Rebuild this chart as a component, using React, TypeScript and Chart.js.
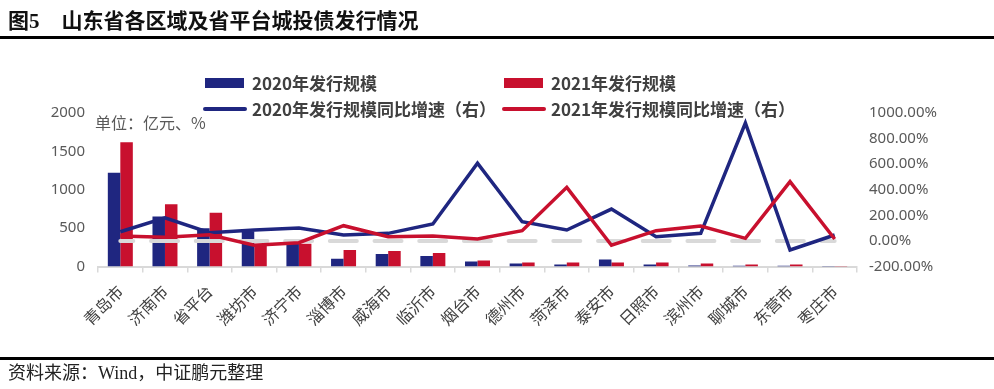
import React, { useEffect, useRef } from "react";
import { Chart, registerables } from "chart.js";

Chart.register(...registerables);

const categories = ["青岛市", "济南市", "省平台", "潍坊市", "济宁市", "淄博市", "威海市", "临沂市", "烟台市", "德州市", "菏泽市", "泰安市", "日照市", "滨州市", "聊城市", "东营市", "枣庄市"];
const issue2020 = [1220, 650, 500, 460, 310, 100, 163, 137, 65, 40, 26, 91, 26, 13, 10, 10, 8];
const issue2021 = [1620, 810, 700, 290, 295, 215, 202, 176, 78, 52, 52, 52, 52, 39, 26, 26, 8];
const growth2020 = [72, 181, 64, 85, 101, 46, 59, 132, 607, 150, 85, 249, 33, 59, 922, -71, 46];
const growth2021 = [38, 28, 48, -34, -14, 119, 33, 38, 15, 80, 419, -34, 80, 116, 20, 463, 15];
const zeroLine = [0, 0, 0, 0, 0, 0, 0, 0, 0, 0, 0, 0, 0, 0, 0, 0, 0];
const leftTicks = { min: 0, max: 2000, step: 500 };
const rightTicks = { min: -200, max: 1000, step: 200 };

const BLUE = "#1f2680";
const RED = "#c8102e";
const SANS = '"Noto Sans", "Noto Sans CJK SC", sans-serif';
const CJK = '"Noto Sans CJK SC", sans-serif';

const legendSlots = [
  { x: 205, y: 83, textX: 252, kind: "box" },
  { x: 504, y: 83, textX: 551, kind: "box" },
  { x: 205, y: 109, textX: 252, kind: "line" },
  { x: 504, y: 109, textX: 551, kind: "line" },
];

const legendPlugin = {
  id: "customLegend",
  afterDraw(chart: any) {
    const ctx = chart.ctx;
    ctx.save();
    const items = chart.data.datasets.filter((d: any) => d.legendIndex !== undefined);
    items.forEach((d: any) => {
      const s = legendSlots[d.legendIndex];
      if (s.kind === "box") {
        ctx.fillStyle = d.backgroundColor;
        ctx.fillRect(s.x, s.y - 5, 39, 10);
      } else {
        ctx.strokeStyle = d.borderColor;
        ctx.lineWidth = 4;
        ctx.lineCap = "round";
        ctx.beginPath();
        ctx.moveTo(s.x, s.y);
        ctx.lineTo(s.x + 40, s.y);
        ctx.stroke();
      }
      ctx.fillStyle = "#404040";
      ctx.font = "bold 17px " + CJK;
      ctx.textBaseline = "middle";
      ctx.textAlign = "left";
      ctx.fillText(d.label, s.textX, s.y + 1);
    });
    ctx.fillStyle = "#595959";
    ctx.font = "16px " + CJK;
    ctx.textBaseline = "middle";
    ctx.fillText("单位：亿元、%", 95, 123);
    ctx.restore();
  },
};

export default function App() {
  const ref = useRef<HTMLCanvasElement | null>(null);
  useEffect(() => {
    document.body.style.margin = "0";
    const chart = new Chart(ref.current as HTMLCanvasElement, {
      type: "bar",
      data: {
        labels: categories,
        datasets: [
          {
            type: "line",
            label: "2021年发行规模同比增速（右）",
            data: growth2021,
            yAxisID: "y1",
            borderColor: RED,
            backgroundColor: RED,
            borderWidth: 3.5,
            pointRadius: 0,
            tension: 0,
            order: 0,
            legendIndex: 3,
          } as any,
          {
            type: "line",
            label: "2020年发行规模同比增速（右）",
            data: growth2020,
            yAxisID: "y1",
            borderColor: BLUE,
            backgroundColor: BLUE,
            borderWidth: 3.5,
            pointRadius: 0,
            tension: 0,
            order: 1,
            legendIndex: 2,
          } as any,
          {
            type: "line",
            label: "zero",
            data: zeroLine,
            yAxisID: "y1",
            borderColor: "#d9d9d9",
            borderWidth: 4,
            borderDash: [27, 17.7],
            borderDashOffset: 14,
            borderCapStyle: "round",
            pointRadius: 0,
            order: 2,
          } as any,
          {
            type: "bar",
            label: "2020年发行规模",
            data: issue2020,
            yAxisID: "y",
            backgroundColor: BLUE,
            categoryPercentage: 0.56,
            barPercentage: 1,
            order: 3,
            legendIndex: 0,
          } as any,
          {
            type: "bar",
            label: "2021年发行规模",
            data: issue2021,
            yAxisID: "y",
            backgroundColor: RED,
            categoryPercentage: 0.56,
            barPercentage: 1,
            order: 4,
            legendIndex: 1,
          } as any,
        ],
      },
      options: {
        responsive: false,
        maintainAspectRatio: false,
        animation: false,
        devicePixelRatio: 1,
        layout: { padding: { left: 0, right: 0, top: 113, bottom: 42.5 } },
        plugins: { legend: { display: false }, tooltip: { enabled: false } },
        scales: {
          x: {
            grid: {
              display: true,
              drawOnChartArea: false,
              drawTicks: true,
              tickLength: 6,
              color: "#d9d9d9",
              lineWidth: 1.5,
              offset: true,
            },
            border: { display: true, color: "#d9d9d9", width: 2 },
            ticks: {
              minRotation: 45,
              maxRotation: 45,
              padding: 9,
              color: "#404040",
              font: { family: CJK, size: 16 },
              autoSkip: false,
            },
            afterFit: (axis: any) => {
              axis.height = 80;
            },
          },
          y: {
            position: "left",
            min: leftTicks.min,
            max: leftTicks.max,
            grid: { display: false, drawTicks: false },
            border: { display: false },
            ticks: {
              stepSize: leftTicks.step,
              padding: 13,
              color: "#595959",
              font: { family: SANS, size: 15 },
              callback: (v: any) => String(v),
            },
            afterFit: (axis: any) => {
              axis.width = 98;
            },
          },
          y1: {
            position: "right",
            min: rightTicks.min,
            max: rightTicks.max,
            grid: { display: false, drawTicks: false },
            border: { display: false },
            ticks: {
              stepSize: rightTicks.step,
              padding: 12,
              color: "#595959",
              font: { family: SANS, size: 15 },
              callback: (v: any) => Number(v).toFixed(2) + "%",
            },
            afterFit: (axis: any) => {
              axis.width = 137;
            },
          },
        },
      } as any,
      plugins: [legendPlugin],
    });
    return () => chart.destroy();
  }, []);

  return (
    <div style={{ position: "relative", width: 994, height: 389, background: "#fff", overflow: "hidden" }}>
      <canvas ref={ref} width={994} height={389} style={{ position: "absolute", left: 0, top: 0 }} />
      <div
        style={{
          position: "absolute",
          left: 8,
          top: 6,
          fontFamily: '"Liberation Serif", "Noto Sans CJK SC", serif',
          fontWeight: "bold",
          fontSize: 21,
          lineHeight: "30px",
          color: "#111",
          whiteSpace: "nowrap",
        }}
      >
        图5<span style={{ display: "inline-block", width: 22 }} />山东省各区域及省平台城投债发行情况
      </div>
      <div style={{ position: "absolute", left: 0, top: 36, width: 994, height: 3, background: "#000" }} />
      <div style={{ position: "absolute", left: 0, top: 357, width: 994, height: 2.5, background: "#000" }} />
      <div
        style={{
          position: "absolute",
          left: 8,
          top: 361,
          fontFamily: '"Liberation Serif", "Noto Sans CJK SC", serif',
          fontSize: 18,
          lineHeight: "24px",
          color: "#222",
          whiteSpace: "nowrap",
        }}
      >
        资料来源：Wind，中证鹏元整理
      </div>
    </div>
  );
}
